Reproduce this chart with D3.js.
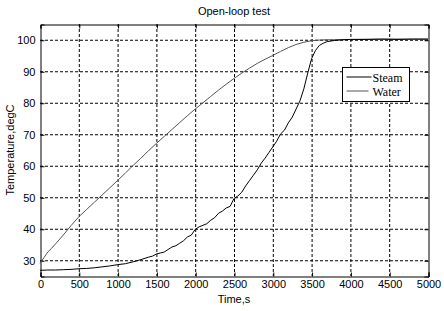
<!DOCTYPE html>
<html>
<head>
<meta charset="utf-8">
<script src="https://cdn.jsdelivr.net/npm/d3@7"></script>
<style>
  body { margin: 0; background: #fff; }
  text { font-family: "Liberation Sans", "DejaVu Sans", sans-serif; }
</style>
</head>
<body>
<div id="viz"></div>
<script>
const width = 444;
const height = 311;
const margin = {top: 24, right: 16, bottom: 35, left: 40};

// time stamps (s) and temperatures (degC)
const steamTime = [0, 100, 200, 300, 400, 500, 600, 700, 800, 900, 1000, 1100, 1200, 1300, 1400,
  1450, 1500, 1550, 1600, 1650, 1700, 1750, 1800, 1850, 1900, 1950, 2000, 2050, 2100, 2150, 2200,
  2250, 2300, 2350, 2400, 2450, 2500, 2550, 2600, 2650, 2700, 2750, 2800, 2850, 2900, 2950, 3000,
  3050, 3100, 3150, 3200, 3250, 3300, 3350, 3400, 3450, 3500, 3550, 3600, 3650, 3700, 3800, 3900,
  4000, 4200, 4400, 4600, 4800, 5000];
const steamTemp = [26.8, 26.9, 26.9, 27.0, 27.1, 27.3, 27.4, 27.6, 27.9, 28.2, 28.6, 28.9, 29.5, 30.2, 31.0,
  31.3, 32.0, 32.3, 32.6, 33.4, 34.2, 34.6, 35.4, 36.2, 37.4, 38.0, 39.8, 40.6, 41.1, 41.6, 42.7,
  43.5, 44.9, 45.6, 46.6, 47.1, 49.6, 50.4, 51.6, 53.6, 55.3, 57.0, 58.7, 60.8, 62.4, 64.2, 66.0,
  67.8, 70.1, 71.3, 73.6, 75.4, 78.0, 80.6, 84.4, 89.4, 94.0, 96.6, 98.2, 98.9, 99.4, 99.8, 100.0,
  100.1, 100.1, 100.2, 100.1, 100.2, 100.2];

const waterTime = [0, 50, 100, 150, 200, 300, 400, 500, 600, 700, 800, 900, 1000, 1100, 1200, 1300, 1400,
  1500, 1600, 1700, 1800, 1900, 2000, 2100, 2200, 2300, 2400, 2500, 2600, 2700, 2800, 2900, 3000,
  3100, 3200, 3300, 3400, 3500, 3600, 3700, 3800, 4000, 4500, 5000];
const waterTemp = [29.0, 30.8, 32.6, 33.8, 35.2, 38.0, 41.0, 43.8, 46.1, 48.4, 50.7, 53.0, 55.3, 57.7, 60.1, 62.4, 64.8,
  67.1, 69.3, 71.5, 73.7, 75.9, 78.0, 80.0, 82.0, 84.0, 85.9, 87.7, 89.4, 91.0, 92.5, 93.8, 95.0,
  96.3, 97.5, 98.5, 99.2, 99.7, 99.9, 100.0, 100.0, 100.1, 100.2, 100.2];

const xTicks = d3.range(0, 5001, 500);
const yTicks = [30, 40, 50, 60, 70, 80, 90, 100];
const seriesNames = ['Steam', 'Water'];
const seriesColors = ['#000000', '#555555'];

const x = d3.scaleLinear().domain([0, 5000]).range([margin.left, width - margin.right]);
const y = d3.scaleLinear().domain([25, 105]).range([height - margin.bottom, margin.top]);

const svg = d3.select('#viz').append('svg')
  .attr('width', width)
  .attr('height', height);

// grid
svg.append('g')
  .selectAll('line')
  .data(xTicks.slice(1, -1))
  .join('line')
    .attr('x1', d => x(d) + 0.5).attr('x2', d => x(d) + 0.5)
    .attr('y1', y(105)).attr('y2', y(25))
    .attr('stroke', '#000').attr('stroke-dasharray', '3,2');

svg.append('g')
  .selectAll('line')
  .data(yTicks)
  .join('line')
    .attr('x1', x(0)).attr('x2', x(5000))
    .attr('y1', d => y(d) + 0.5).attr('y2', d => y(d) + 0.5)
    .attr('stroke', '#000').attr('stroke-dasharray', '3,2');

// axes
svg.append('g')
  .attr('transform', `translate(0.5, ${y(25) + 0.5})`)
  .call(d3.axisBottom(x).tickValues(xTicks).tickFormat(d3.format('d')).tickSize(-4).tickPadding(4));
svg.append('g')
  .attr('transform', `translate(${x(0) + 0.5}, 0.5)`)
  .call(d3.axisLeft(y).tickValues(yTicks).tickSize(-4).tickPadding(5));
svg.append('g')
  .attr('transform', `translate(0.5, ${y(105) + 0.5})`)
  .call(d3.axisTop(x).tickValues(xTicks).tickSize(-4).tickFormat(''));
svg.append('g')
  .attr('transform', `translate(${x(5000) + 0.5}, 0.5)`)
  .call(d3.axisRight(y).tickValues(yTicks).tickSize(-4).tickFormat(''));

svg.selectAll('.domain').attr('stroke', '#000');
svg.selectAll('.tick line').attr('stroke', '#000');
svg.selectAll('.tick text').attr('font-size', 11).attr('fill', '#000')
  .style('font-family', '"Liberation Sans", sans-serif');

// lines
const line = d3.line().x(d => x(d[0])).y(d => y(d[1]));
svg.append('path')
  .attr('d', line(d3.zip(waterTime, waterTemp)))
  .attr('fill', 'none').attr('stroke', seriesColors[1]).attr('stroke-width', 1);
svg.append('path')
  .attr('d', line(d3.zip(steamTime, steamTemp)))
  .attr('fill', 'none').attr('stroke', seriesColors[0]).attr('stroke-width', 1);

// title and labels
svg.append('text')
  .attr('x', 234).attr('y', 15)
  .attr('text-anchor', 'middle').attr('font-size', 11)
  .text('Open-loop test');
svg.append('text')
  .attr('x', 234).attr('y', 303)
  .attr('text-anchor', 'middle').attr('font-size', 11)
  .text('Time,s');
svg.append('text')
  .attr('transform', 'translate(14, 150) rotate(-90)')
  .attr('text-anchor', 'middle').attr('font-size', 11)
  .text('Temperature,degC');

// legend
const legend = svg.append('g').attr('transform', 'translate(342.5, 67.5)');
legend.append('rect')
  .attr('width', 67).attr('height', 34)
  .attr('fill', '#fff').attr('stroke', '#000');
seriesNames.forEach((name, i) => {
  legend.append('line')
    .attr('x1', 4).attr('x2', i === 0 ? 29 : 26)
    .attr('y1', 9.5 + i * 14).attr('y2', 9.5 + i * 14)
    .attr('stroke', seriesColors[i]);
  legend.append('text')
    .attr('x', 30).attr('y', 14 + i * 14)
    .attr('font-size', 12)
    .style('font-family', '"Liberation Serif", serif')
    .text(name);
});
</script>
</body>
</html>
